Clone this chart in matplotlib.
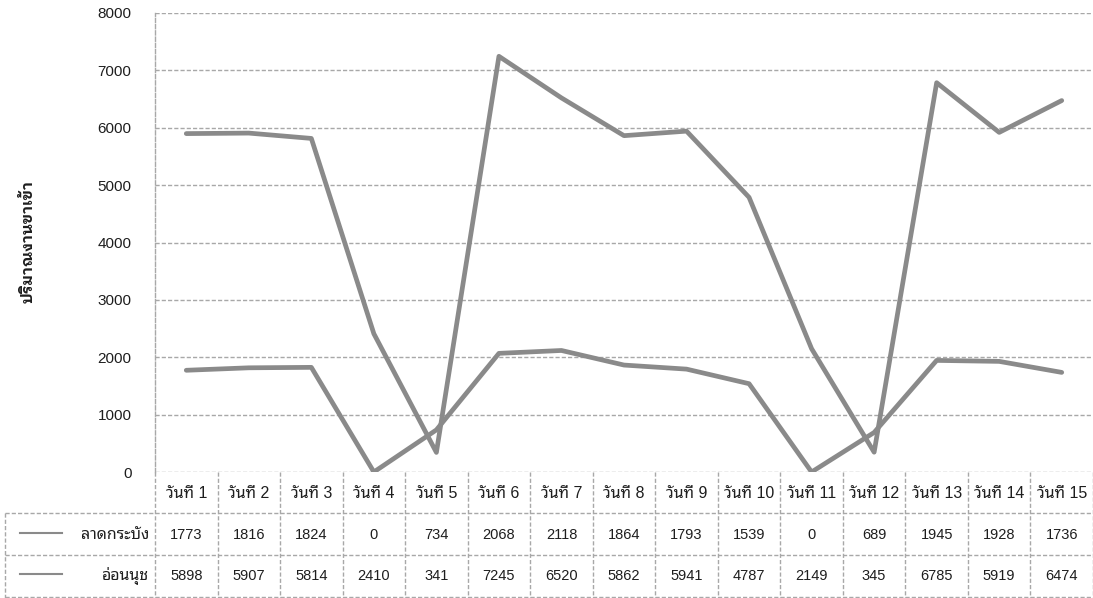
import matplotlib
matplotlib.use('Agg')
import matplotlib.pyplot as plt
import matplotlib.transforms as mtransforms
from matplotlib.lines import Line2D
import numpy as np

plt.rcParams['font.family'] = ['Liberation Sans', 'Noto Sans Thai Looped']

days = ['วันที่ %d' % d for d in range(1, 16)]
lat_krabang = [1773, 1816, 1824, 0, 734, 2068, 2118, 1864, 1793, 1539, 0, 689, 1945, 1928, 1736]
on_nut = [5898, 5907, 5814, 2410, 341, 7245, 6520, 5862, 5941, 4787, 2149, 345, 6785, 5919, 6474]
series_names = ['ลาดกระบัง', 'อ่อนนุช']
series_vals = [lat_krabang, on_nut]
yticks = [0, 1000, 2000, 3000, 4000, 5000, 6000, 7000, 8000]
ylabel = 'ปริมาณงานขาเข้า'

W, H = 1093, 598
line_col = '#8a8a8a'
grid_col = '#a8a8a8'
text_col = '#1e1e1e'

fig = plt.figure(figsize=(W / 100, H / 100), dpi=100)
fig.patch.set_facecolor('white')

def fy(py):
    return 1 - py / H

def fx(px):
    return px / W

ax_left, ax_top, ax_bot = 155, 13, 472
ax = fig.add_axes([fx(ax_left), fy(ax_bot), 1 - fx(ax_left), fy(ax_top) - fy(ax_bot)])

x = np.arange(len(days))
for vals in series_vals:
    ax.plot(x, vals, color=line_col, lw=3.4, solid_capstyle='round', solid_joinstyle='round', zorder=3)

ax.set_xlim(-0.5, len(days) - 0.5)
ax.set_ylim(0, 8000)
ax.set_yticks(yticks)
ax.set_yticklabels([str(v) for v in yticks], fontsize=11, color=text_col)
ax.set_xticks([])
ax.tick_params(axis='y', length=0, pad=17)
ax.grid(axis='y', color=grid_col, lw=1, ls=(0, (3, 1.5)))
for s in ['top', 'right', 'bottom']:
    ax.spines[s].set_visible(False)
ax.spines['left'].set_color(grid_col)
ax.spines['left'].set_linestyle((0, (3, 1.5)))
ax.spines['left'].set_linewidth(1)

fig.text(fx(28), fy(242), ylabel, rotation=90, ha='center', va='center',
         fontsize=11, fontweight='bold', color=text_col,
         family=['IBM Plex Sans Thai Looped', 'Noto Sans Thai Looped'])

# data table under the axis
tr = mtransforms.blended_transform_factory(ax.transData, fig.transFigure)
row_lines = [513, 555, 597]
for i in range(len(days) + 1):
    fig.add_artist(Line2D([i - 0.5, i - 0.5], [fy(ax_bot), fy(H)], transform=tr,
                          color=grid_col, lw=1, ls=(0, (3, 1.5))))
for py in row_lines:
    fig.add_artist(Line2D([fx(5), 1], [fy(py), fy(py)], transform=fig.transFigure,
                          color=grid_col, lw=1, ls=(0, (3, 1.5))))
fig.add_artist(Line2D([fx(5), fx(5)], [fy(513), fy(H)], transform=fig.transFigure,
                      color=grid_col, lw=1, ls=(0, (3, 1.5))))

for i, d in enumerate(days):
    fig.text(i, fy(494), d, transform=tr, ha='center', va='center', fontsize=11.5, color=text_col)

row_centers = [535, 576]
for name, vals, py in zip(series_names, series_vals, row_centers):
    fig.add_artist(Line2D([fx(20), fx(62)], [fy(py - 2), fy(py - 2)], transform=fig.transFigure,
                          color=line_col, lw=1.5))
    fig.text(fx(149), fy(py), name, ha='right', va='center', fontsize=11.5, color=text_col)
    for i, v in enumerate(vals):
        fig.text(i, fy(py), str(v), transform=tr, ha='center', va='center', fontsize=10.5, color=text_col)

fig.savefig('out.png', dpi=100)
